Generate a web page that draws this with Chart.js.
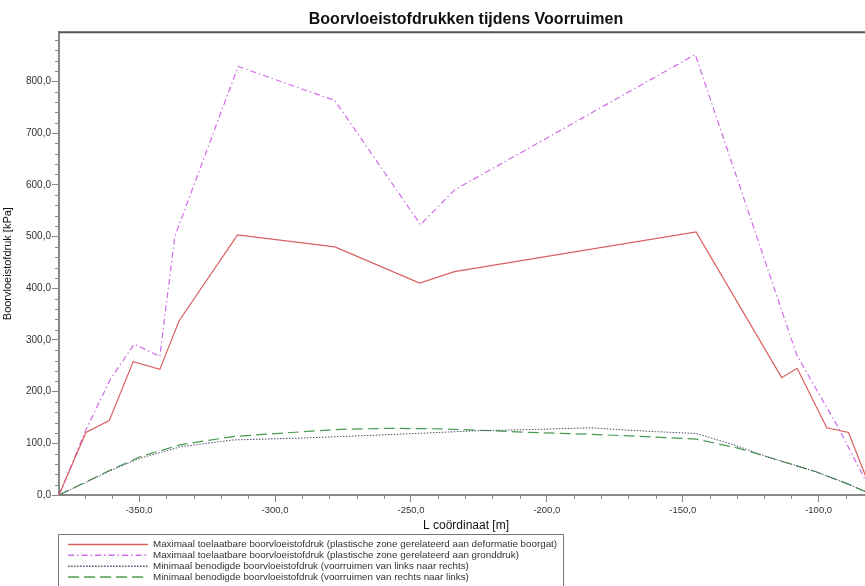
<!DOCTYPE html>
<html lang="nl">
<head>
    <meta charset="UTF-8">
    <title>Boorvloeistofdrukken tijdens Voorruimen</title>
    <script src="https://cdn.jsdelivr.net/npm/chart.js"></script>
    <style>
        html, body { margin: 0; padding: 0; overflow: hidden; background: #fff; }
    </style>
</head>
<body>
    <canvas id="myChart" width="880" height="586"></canvas>

    <script>
        // L coordinate [m] and pressure [kPa] per series
        const redX = [-379.5, -369.6, -361.0, -352.2, -342.4, -335.3, -313.8, -278.0, -246.8, -234.0, -145.1, -113.6, -107.9, -97.0, -89.0, -80.0];
        const redY = [0, 121, 144, 258, 243, 337, 503, 480, 410, 432, 509, 227, 245, 130, 121, 0];

        const magX = [-379.5, -369.6, -360.7, -351.8, -342.4, -336.9, -313.6, -278.0, -246.5, -234.0, -145.4, -108.0, -92.5, -80.0];
        const magY = [0, 126, 223, 292, 268, 500, 829, 763, 523, 590, 852, 270, 128, 0];

        const dotX = [-379.5, -369.3, -360.7, -349.7, -335.0, -315.5, -291.0, -276.0, -246.0, -227.0, -203.0, -184.0, -172.0, -160.0, -145.0, -130.0, -119.0, -101.0, -90.0, -80.0];
        const dotY = [0, 25, 47, 71, 93, 106.5, 110, 113, 119.5, 124, 127, 130, 126, 122.5, 119, 95, 74, 45, 23, 0];

        const greenX = [-379.5, -369.3, -360.7, -349.7, -335.0, -315.5, -291.0, -276.0, -258.0, -239.0, -221.0, -206.0, -184.0, -160.0, -145.0, -130.0, -119.0, -101.0, -90.0, -80.0];
        const greenY = [0, 26, 48, 74, 97, 113, 122, 127, 129, 128, 124.5, 121, 117.5, 112, 108, 91, 74, 45, 23, 0];

        const xTicks = [-350, -300, -250, -200, -150, -100];
        const yTicks = [0, 100, 200, 300, 400, 500, 600, 700, 800];

        const labels = [
            'Maximaal toelaatbare boorvloeistofdruk (plastische zone gerelateerd aan deformatie boorgat)',
            'Maximaal toelaatbare boorvloeistofdruk (plastische zone gerelateerd aan gronddruk)',
            'Minimaal benodigde boorvloeistofdruk (voorruimen van links naar rechts)',
            'Minimaal benodigde boorvloeistofdruk (voorruimen van rechts naar links)'
        ];

        const FONT = "'Liberation Sans', Arial, sans-serif";
        const LEGEND_SIZE = 9.8;
        const LEGEND_WIDTH = 560;
        const fmt = v => Number(v).toFixed(1).replace('.', ',');
        const pts = (xs, ys) => xs.map((x, i) => ({ x: x, y: ys[i] }));

        // top frame line, minor tick marks and the legend box
        const framePlugin = {
            id: 'frame',
            beforeLayout(chart) {
                // one legend entry per row, like the original
                const lg = chart.legend;
                if (lg && !lg._narrow) {
                    const upd = lg.update;
                    lg.update = function (w, h, m) { return upd.call(this, Math.min(w, LEGEND_WIDTH), h, m); };
                    lg._narrow = true;
                }
            },
            afterLayout(chart) {
                const lg = chart.legend;
                lg.boxTop = lg.top + 2;
                lg.left = chart.chartArea.left + 8;
                lg.right = lg.left + LEGEND_WIDTH;
                lg.top = lg.top + 6;
            },
            afterDraw(chart) {
                const c = chart.ctx, a = chart.chartArea;
                const sx = chart.scales.x, sy = chart.scales.y;
                c.save();
                c.strokeStyle = '#555';
                c.lineWidth = 2;
                c.beginPath();
                c.moveTo(a.left, a.top);
                c.lineTo(a.right, a.top);
                c.lineTo(a.right, a.bottom);
                c.stroke();

                c.strokeStyle = '#888';
                c.lineWidth = 1;
                c.beginPath();
                for (let v = -370; v <= -80; v += 10) {
                    if (v % 50 === 0) continue;
                    const px = Math.round(sx.getPixelForValue(v)) + 0.5;
                    c.moveTo(px, a.bottom);
                    c.lineTo(px, a.bottom + 4);
                }
                for (let v = 20; v < sy.max; v += 20) {
                    if (v % 100 === 0) continue;
                    const py = Math.round(sy.getPixelForValue(v)) + 0.5;
                    c.moveTo(a.left - 4, py);
                    c.lineTo(a.left, py);
                }
                c.stroke();

                const lg = chart.legend;
                c.font = LEGEND_SIZE + 'px ' + FONT;
                let w = 0;
                labels.forEach(t => { w = Math.max(w, c.measureText(t).width); });
                const boxTop = Math.round(lg.boxTop) + 0.5;
                const boxRight = Math.round(lg.left + 1 + 80 + LEGEND_SIZE / 2 + w + 6) + 0.5;
                c.strokeStyle = '#777';
                c.beginPath();
                c.moveTo(a.left - 0.5, chart.height + 2);
                c.lineTo(a.left - 0.5, boxTop);
                c.lineTo(boxRight, boxTop);
                c.lineTo(boxRight, chart.height + 2);
                c.stroke();
                c.restore();
            }
        };

        const ctx = document.getElementById('myChart').getContext('2d');

        new Chart(ctx, {
            type: 'scatter',
            data: {
                datasets: [{
                    label: labels[0],
                    data: pts(redX, redY),
                    borderColor: '#d9605f',
                    borderWidth: 1.2
                }, {
                    label: labels[1],
                    data: pts(magX, magY),
                    borderColor: '#cf6be6',
                    borderWidth: 1.2,
                    borderDash: [6, 3, 1.5, 3]
                }, {
                    label: labels[2],
                    data: pts(dotX, dotY),
                    borderColor: '#4a4e6a',
                    borderWidth: 1,
                    borderDash: [1.5, 1.5]
                }, {
                    label: labels[3],
                    data: pts(greenX, greenY),
                    borderColor: '#4a9a50',
                    borderWidth: 1.2,
                    borderDash: [11, 5]
                }]
            },
            options: {
                responsive: false,
                animation: false,
                showLine: true,
                elements: {
                    point: { radius: 0 },
                    line: { tension: 0 }
                },
                layout: {
                    padding: { left: 0, right: 7, top: 0, bottom: 0 }
                },
                plugins: {
                    tooltip: { enabled: false },
                    title: {
                        display: true,
                        text: 'Boorvloeistofdrukken tijdens Voorruimen',
                        fullSize: false,
                        color: '#111',
                        font: { family: FONT, size: 16, weight: 'bold' },
                        padding: { top: 10.4, bottom: 2.7 }
                    },
                    legend: {
                        position: 'bottom',
                        align: 'start',
                        labels: {
                            usePointStyle: true,
                            pointStyleWidth: 80,
                            padding: 1.1,
                            color: '#333',
                            font: { family: FONT, size: LEGEND_SIZE },
                            generateLabels: chart => chart.data.datasets.map((ds, i) => ({
                                text: ds.label,
                                strokeStyle: ds.borderColor,
                                fillStyle: ds.borderColor,
                                fontColor: '#333',
                                lineWidth: 1.5,
                                lineDash: ds.borderDash || [],
                                pointStyle: 'line',
                                hidden: false,
                                datasetIndex: i
                            }))
                        }
                    }
                },
                scales: {
                    x: {
                        type: 'linear',
                        min: -379.5,
                        max: -80,
                        afterBuildTicks: s => { s.ticks = xTicks.map(v => ({ value: v })); },
                        afterFit: s => { s.height = 37.4; },
                        ticks: {
                            callback: fmt,
                            color: '#333',
                            font: { family: FONT, size: 9.5 },
                            padding: 3,
                            maxRotation: 0,
                            autoSkip: false
                        },
                        grid: { drawOnChartArea: false, tickLength: 7, color: '#888' },
                        border: { color: '#888', width: 2 },
                        title: {
                            display: true,
                            text: 'L coördinaat [m]',
                            color: '#111',
                            font: { family: FONT, size: 12 },
                            padding: { top: 0, bottom: 0 }
                        }
                    },
                    y: {
                        min: 0,
                        max: 895,
                        afterBuildTicks: s => { s.ticks = yTicks.map(v => ({ value: v })); },
                        afterFit: s => { s.width = 59; },
                        ticks: {
                            callback: fmt,
                            color: '#333',
                            font: { family: FONT, size: 10 },
                            padding: 1
                        },
                        grid: { drawOnChartArea: false, tickLength: 7, color: '#888' },
                        border: { color: '#888', width: 2 },
                        title: {
                            display: true,
                            text: 'Boorvloeistofdruk [kPa]',
                            color: '#111',
                            font: { family: FONT, size: 11 },
                            padding: { top: 1.5, bottom: 0 }
                        }
                    }
                }
            },
            plugins: [framePlugin]
        });
    </script>
</body>
</html>
